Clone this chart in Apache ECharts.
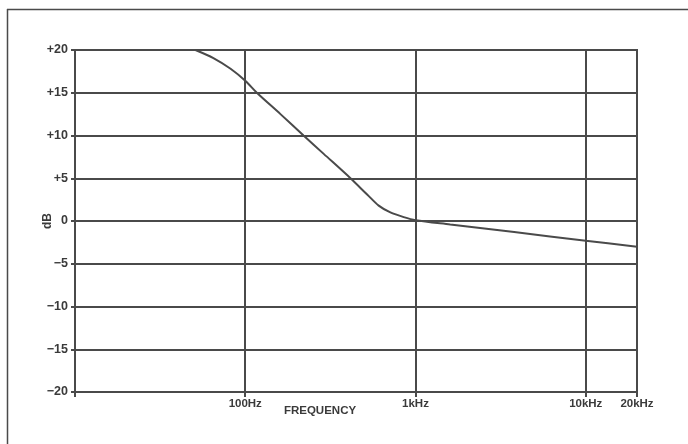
<!DOCTYPE html>
<html>
<head>
<meta charset="utf-8">
<script src="https://cdn.jsdelivr.net/npm/echarts@6/dist/echarts.min.js"></script>
<style>
html,body{margin:0;padding:0;background:#fff;}
#c{width:688px;height:444px;}
</style>
</head>
<body>
<div id="c"></div>
<script>
// Frequency (Hz) and response (dB)
var freqHz = [51, 65, 82, 100, 117, 161, 220, 289, 415, 520, 608, 712, 853, 1000, 1600, 3800, 10000, 20000];
var gainDb = [20.0, 19.05, 17.8, 16.4, 15.0, 12.5, 10.0, 7.85, 5.0, 3.1, 1.8, 1.0, 0.45, 0.1, -0.4, -1.3, -2.3, -3.0];
var xTickValues = [10, 100, 1000, 10000, 20000];
var xLabelValues = [100, 1000, 10000, 20000];
var xLabelText = {100: '100Hz', 1000: '1kHz', 10000: '10kHz', 20000: '20kHz'};
var yTicks = [-20, -15, -10, -5, 0, 5, 10, 15, 20];

var ink = '#4a4a4a';
var txt = '#3a3a3a';
var chart = echarts.init(document.getElementById('c'), null, {renderer: 'canvas'});
var data = freqHz.map(function (f, i) { return [f, gainDb[i]]; });

chart.setOption({
  animation: false,
  backgroundColor: '#fff',
  grid: {left: 75, right: 51, top: 50, bottom: 52, show: true, borderColor: ink, borderWidth: 2},
  xAxis: {
    type: 'log', logBase: 10, min: 10, max: 20000,
    axisLine: {show: true, onZero: false, lineStyle: {color: ink, width: 2}},
    axisTick: {show: true, customValues: xTickValues, length: 5, lineStyle: {color: ink, width: 2}},
    splitLine: {show: true, lineStyle: {color: ink, width: 2}},
    axisLabel: {
      customValues: xLabelValues, margin: 6,
      color: txt, fontFamily: 'Liberation Sans', fontWeight: 'bold', fontSize: 11.5,
      formatter: function (v) { return xLabelText[Math.round(v)] || ''; }
    }
  },
  yAxis: {
    type: 'value', min: -20, max: 20, interval: 5,
    name: 'dB', nameLocation: 'middle', nameGap: 21, nameMoveOverlap: false,
    nameTextStyle: {color: txt, fontFamily: 'Liberation Sans', fontWeight: 'bold', fontSize: 12},
    axisLine: {show: true, lineStyle: {color: ink, width: 2}},
    axisTick: {show: true, length: 4, lineStyle: {color: ink, width: 2}},
    splitLine: {show: true, lineStyle: {color: ink, width: 2}},
    axisLabel: {
      margin: 7, color: txt, fontFamily: 'Liberation Sans', fontWeight: 'bold', fontSize: 12.5,
      formatter: function (v) { return v > 0 ? '+' + v : (v < 0 ? '\u2212' + Math.abs(v) : '0'); }
    }
  },
  graphic: [
    {type: 'line', shape: {x1: 7, y1: 9.5, x2: 688, y2: 9.5}, style: {stroke: ink, lineWidth: 1.5}},
    {type: 'line', shape: {x1: 7.5, y1: 9, x2: 7.5, y2: 444}, style: {stroke: ink, lineWidth: 1.5}},
    {type: 'text', x: 320, y: 411, style: {text: 'FREQUENCY', fill: txt, font: 'bold 11.5px "Liberation Sans"', align: 'center', verticalAlign: 'middle'}}
  ],
  series: [{
    type: 'line', data: data, smooth: 0.3, symbol: 'none',
    lineStyle: {color: ink, width: 2}
  }]
});
</script>
</body>
</html>
